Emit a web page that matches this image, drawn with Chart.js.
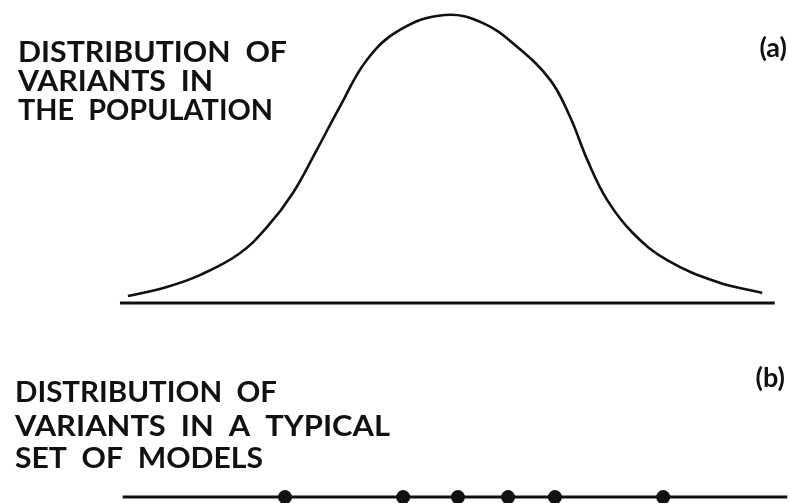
<!DOCTYPE html>
<html>
<head>
<meta charset="utf-8">
<script src="https://cdn.jsdelivr.net/npm/chart.js@4/dist/chart.umd.min.js"></script>
<style>
  html, body { margin: 0; padding: 0; background: #fff; }
  #wrap { position: relative; width: 789px; height: 503px; }
</style>
</head>
<body>
<div id="wrap"><canvas id="chart" width="789" height="503"></canvas></div>
<script>
// (a) spread of variants across the population
const popX = [1.2, 7.1, 12.1, 18.0, 22.3, 26.2, 29.8, 33.3, 37.4, 42.4, 49.2, 55.0, 60.2, 65.2, 68.2, 70.8, 73.8, 77.7, 82.9, 90.5, 97.3];
const popY = [0.024, 0.056, 0.097, 0.170, 0.264, 0.382, 0.531, 0.681, 0.844, 0.948, 1.0, 0.972, 0.889, 0.774, 0.646, 0.497, 0.358, 0.243, 0.149, 0.073, 0.035];

// (b) where the variants of one typical model set fall
const modelX = [25.0, 42.9, 51.2, 58.8, 65.9, 82.3];

// the two horizontal axes
const axisA = { from: 0, to: 99.2, level: 0 };
const axisB = { from: 0.4, to: 101.1, level: -0.674 };

const titleA = ['DISTRIBUTION  OF', 'VARIANTS  IN', 'THE  POPULATION'];
const titleB = ['DISTRIBUTION  OF', 'VARIANTS  IN  A  TYPICAL', 'SET  OF  MODELS'];
const tagA = '(a)';
const tagB = '(b)';

const ink = '#111';

const labels = {
  id: 'labels',
  afterDraw(chart) {
    const ctx = chart.ctx;
    ctx.save();
    ctx.fillStyle = ink;
    ctx.textBaseline = 'alphabetic';
    ctx.font = 'bold 28px Lato, "DejaVu Sans", sans-serif';
    // fit each line to its printed width
    const block = (lines, x, ys, widths) => {
      lines.forEach((t, i) => {
        const w = ctx.measureText(t).width;
        ctx.save();
        ctx.translate(x, ys[i]);
        ctx.scale(widths[i] / w, 1);
        ctx.fillText(t, 0, 0);
        ctx.restore();
      });
    };
    block(titleA, 18, [62, 91, 120], [269, 195, 255]);
    block(titleB, 15, [402, 436, 468], [262, 375, 248]);
    ctx.font = 'bold 27px Lato, "DejaVu Sans", sans-serif';
    ctx.textAlign = 'right';
    ctx.fillText(tagA, 787, 57);
    ctx.fillText(tagB, 785, 387);
    ctx.restore();
  }
};

new Chart(document.getElementById('chart'), {
  type: 'scatter',
  data: {
    datasets: [
      {
        data: popX.map((x, i) => ({ x, y: popY[i] })),
        showLine: true,
        borderColor: ink,
        borderWidth: 2.6,
        pointRadius: 0,
        tension: 0.4
      },
      {
        data: [{ x: axisA.from, y: axisA.level }, { x: axisA.to, y: axisA.level }],
        showLine: true,
        borderColor: ink,
        borderWidth: 3,
        pointRadius: 0
      },
      {
        data: [{ x: axisB.from, y: axisB.level }, { x: axisB.to, y: axisB.level }],
        showLine: true,
        borderColor: ink,
        borderWidth: 3,
        pointRadius: 0
      },
      {
        data: modelX.map(x => ({ x, y: axisB.level })),
        showLine: false,
        pointRadius: 7,
        pointBackgroundColor: ink,
        pointBorderColor: ink,
        pointBorderWidth: 0
      }
    ]
  },
  options: {
    responsive: false,
    animation: false,
    events: [],
    layout: { padding: 0, autoPadding: false },
    plugins: { legend: { display: false }, tooltip: { enabled: false } },
    scales: {
      x: { type: 'linear', min: -18.18, max: 101.36, display: false },
      y: { type: 'linear', min: -0.6944, max: 1.0521, display: false }
    },
    clip: false
  },
  plugins: [labels]
});
</script>
</body>
</html>
